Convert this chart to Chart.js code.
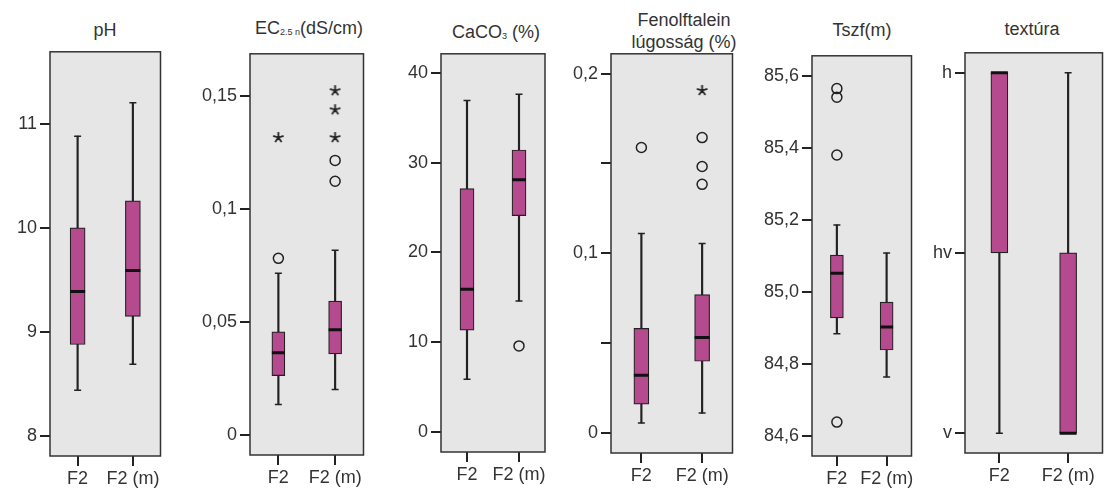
<!DOCTYPE html>
<html lang="hu">
<head>
<meta charset="utf-8">
<title>F2 talajminták</title>
<script src="https://cdn.jsdelivr.net/npm/chart.js@4.4.1/dist/chart.umd.min.js"></script>
<style>
  html, body { margin: 0; padding: 0; background: #fff; overflow: hidden; }
  body { width: 1105px; height: 492px; position: relative; font-family: 'Liberation Sans', Arial, sans-serif; }
  canvas { position: absolute; }
  .cim { position: absolute; transform: translateX(-50%); font-size: 18px; line-height: 22px; color: #333; white-space: nowrap; text-align: center; }
  .cim sub { font-size: 9px; vertical-align: -1px; }
</style>
</head>
<body>
<div class="cim" style="left:105px;top:19px">pH</div>
<div class="cim" style="left:309px;top:17px">EC<sub>2.5 n</sub>(dS/cm)</div>
<div class="cim" style="left:496px;top:21px">CaCO<sub>3</sub> (%)</div>
<div class="cim" style="left:684px;top:9px">Fenolftalein<br>lúgosság (%)</div>
<div class="cim" style="left:862px;top:19px">Tszf(m)</div>
<div class="cim" style="left:1032px;top:18px">textúra</div>

<canvas id="ph"></canvas>
<canvas id="ec"></canvas>
<canvas id="caco3"></canvas>
<canvas id="fenol"></canvas>
<canvas id="tszf"></canvas>
<canvas id="textura"></canvas>

<script>
const categories = ['F2', 'F2 (m)'];

// pH
const phLow = [8.44, 8.69];
const phQ1 = [8.88, 9.15];
const phMedian = [9.39, 9.59];
const phQ3 = [10.0, 10.26];
const phHigh = [10.88, 11.2];
const phCircles = [];
const phStars = [];
const phTicks = [8, 9, 10, 11];
const phTickLabels = ['8', '9', '10', '11'];

// EC 2,5 n (dS/cm)
const ecLow = [0.0135, 0.0201];
const ecQ1 = [0.0263, 0.0359];
const ecMedian = [0.0364, 0.0465];
const ecQ3 = [0.0456, 0.0592];
const ecHigh = [0.0715, 0.0817];
const ecCircles = [{ x: 'F2', y: 0.0781 }, { x: 'F2 (m)', y: 0.1214 }, { x: 'F2 (m)', y: 0.1122 }];
const ecStars = [{ x: 'F2', y: 0.1315 }, { x: 'F2 (m)', y: 0.1522 }, { x: 'F2 (m)', y: 0.1438 }, { x: 'F2 (m)', y: 0.1315 }];
const ecTicks = [0, 0.05, 0.1, 0.15];
const ecTickLabels = ['0', '0,05', '0,1', '0,15'];

// CaCO3 (%)
const caLow = [5.9, 14.6];
const caQ1 = [11.35, 24.1];
const caMedian = [15.9, 28.1];
const caQ3 = [27.1, 31.4];
const caHigh = [36.9, 37.6];
const caCircles = [{ x: 'F2 (m)', y: 9.6 }];
const caStars = [];
const caTicks = [0, 10, 20, 30, 40];
const caTickLabels = ['0', '10', '20', '30', '40'];

// Fenolftalein lúgosság (%)
const feLow = [0.0057, 0.0112];
const feQ1 = [0.0162, 0.04];
const feMedian = [0.0323, 0.0533];
const feQ3 = [0.0583, 0.0771];
const feHigh = [0.111, 0.1055];
const feCircles = [{ x: 'F2', y: 0.1589 }, { x: 'F2 (m)', y: 0.1644 }, { x: 'F2 (m)', y: 0.1483 }, { x: 'F2 (m)', y: 0.1384 }];
const feStars = [{ x: 'F2 (m)', y: 0.1906 }];
const feTicks = [0, 0.05, 0.1, 0.15, 0.2];
const feTickLabels = ['0', '', '0,1', '', '0,2'];

// Tszf (m)
const tsLow = [84.884, 84.764];
const tsQ1 = [84.928, 84.839];
const tsMedian = [85.052, 84.903];
const tsQ3 = [85.102, 84.972];
const tsHigh = [85.186, 85.108];
const tsCircles = [{ x: 'F2', y: 85.564 }, { x: 'F2', y: 85.54 }, { x: 'F2', y: 85.38 }, { x: 'F2', y: 84.639 }];
const tsStars = [];
const tsTicks = [84.6, 84.8, 85.0, 85.2, 85.4, 85.6];
const tsTickLabels = ['84,6', '84,8', '85,0', '85,2', '85,4', '85,6'];

// textúra (v = 1, hv = 2, h = 3)
const txLow = [1, 1];
const txQ1 = [2, 1];
const txMedian = [3, 1];
const txQ3 = [3, 2];
const txHigh = [3, 3];
const txCircles = [];
const txStars = [];
const txTicks = [1, 2, 3];
const txTickLabels = ['v', 'hv', 'h'];

const BOX_COLOR = '#b64a8e';
const LINE_COLOR = '#222';
const PANEL_BG = '#e6e6e6';
const FONT = { family: "'Liberation Sans', Arial, sans-serif", size: 18 };
const Y_AXIS_W = 60;
const X_AXIS_H = 40;
const PAD_TOP = 12;
const PAD_RIGHT = 4;

// ötágú csillag a szélsőértékekhez
const starMarker = (() => {
  const c = document.createElement('canvas');
  c.width = 13;
  c.height = 13;
  const g = c.getContext('2d');
  g.strokeStyle = LINE_COLOR;
  g.lineWidth = 1.8;
  g.beginPath();
  for (let k = 0; k < 5; k += 1) {
    const a = -Math.PI / 2 + (k * 2 * Math.PI) / 5;
    g.moveTo(6.5, 6.5);
    g.lineTo(6.5 + Math.cos(a) * 5.5, 6.5 + Math.sin(a) * 5.5);
  }
  g.stroke();
  return c;
})();

// szürke háttér + keret a rajzterület körül
const panelFrame = {
  id: 'panelFrame',
  beforeDraw(chart) {
    const { ctx, chartArea: a } = chart;
    ctx.save();
    ctx.fillStyle = PANEL_BG;
    ctx.fillRect(a.left, a.top, a.right - a.left, a.bottom - a.top);
    ctx.restore();
  },
  afterDraw(chart) {
    const { ctx, chartArea: a } = chart;
    ctx.save();
    ctx.strokeStyle = '#333';
    ctx.lineWidth = 1.5;
    ctx.strokeRect(a.left, a.top, a.right - a.left, a.bottom - a.top);
    ctx.restore();
  },
};

const points = (values) => values.map((v, i) => ({ x: categories[i], y: v }));

// csak a kifelé álló osztásjelek
const axisGrid = {
  display: true,
  drawOnChartArea: false,
  drawTicks: true,
  tickLength: 10,
  color: LINE_COLOR,
  lineWidth: 2,
};

const boxPlot = (cfg) => {
  const canvas = document.getElementById(cfg.id);
  canvas.width = Y_AXIS_W + cfg.width + PAD_RIGHT;
  canvas.height = PAD_TOP + cfg.height + X_AXIS_H;
  canvas.style.left = `${cfg.left - Y_AXIS_W}px`;
  canvas.style.top = `${cfg.top - PAD_TOP}px`;

  return new Chart(canvas, {
    type: 'bar',
    data: {
      labels: categories,
      datasets: [
        {
          // Q1–Q3 doboz
          data: cfg.q1.map((v, i) => [v, cfg.q3[i]]),
          backgroundColor: BOX_COLOR,
          borderColor: LINE_COLOR,
          borderWidth: 1.2,
          borderSkipped: false,
          barThickness: cfg.boxW,
          grouped: false,
          order: 2,
        },
        {
          // bajusz
          data: cfg.low.map((v, i) => [v, cfg.high[i]]),
          backgroundColor: LINE_COLOR,
          borderWidth: 0,
          barThickness: 1.5,
          grouped: false,
          order: 3,
        },
        {
          type: 'line',
          data: [...points(cfg.low), ...points(cfg.high)],
          showLine: false,
          pointStyle: 'line',
          pointRadius: 3.5,
          pointBorderWidth: 1.5,
          borderColor: LINE_COLOR,
          order: 1,
        },
        {
          // medián
          type: 'line',
          data: points(cfg.median),
          showLine: false,
          pointStyle: 'line',
          pointRadius: cfg.boxW / 2,
          pointBorderWidth: 3,
          borderColor: '#111',
          order: 0,
        },
        {
          type: 'line',
          data: cfg.circles,
          showLine: false,
          pointStyle: 'circle',
          pointRadius: 5,
          pointBorderWidth: 1.5,
          borderColor: LINE_COLOR,
          backgroundColor: 'rgba(0,0,0,0)',
          order: 0,
        },
        {
          type: 'line',
          data: cfg.stars,
          showLine: false,
          pointStyle: starMarker,
          pointRadius: 6,
          borderColor: LINE_COLOR,
          order: 0,
        },
      ],
    },
    options: {
      responsive: false,
      animation: false,
      events: [],
      layout: { padding: { top: PAD_TOP, right: PAD_RIGHT, left: 0, bottom: 0 } },
      plugins: { legend: { display: false }, tooltip: { enabled: false } },
      scales: {
        x: {
          type: 'category',
          offset: true,
          border: { display: false },
          grid: { ...axisGrid, offset: false },
          ticks: {
            color: '#333', font: FONT, padding: 2, maxRotation: 0, autoSkip: false,
          },
          afterFit: (s) => { s.height = X_AXIS_H; },
        },
        y: {
          type: 'linear',
          min: cfg.min,
          max: cfg.max,
          border: { display: false },
          grid: axisGrid,
          afterBuildTicks: (axis) => { axis.ticks = cfg.ticks.map((v) => ({ value: v })); },
          ticks: {
            color: '#333',
            font: FONT,
            padding: 3,
            autoSkip: false,
            callback: (value, index) => cfg.tickLabels[index],
          },
          afterFit: (s) => { s.width = Y_AXIS_W; },
        },
      },
    },
    plugins: [panelFrame],
  });
};

boxPlot({
  id: 'ph', left: 50, top: 50, width: 117, height: 406, boxW: 15, min: 7.81, max: 11.69,
  low: phLow, q1: phQ1, median: phMedian, q3: phQ3, high: phHigh,
  circles: phCircles, stars: phStars, ticks: phTicks, tickLabels: phTickLabels,
});
boxPlot({
  id: 'ec', left: 250, top: 52, width: 119, height: 403, boxW: 13, min: -0.0088, max: 0.1685,
  low: ecLow, q1: ecQ1, median: ecMedian, q3: ecQ3, high: ecHigh,
  circles: ecCircles, stars: ecStars, ticks: ecTicks, tickLabels: ecTickLabels,
});
boxPlot({
  id: 'caco3', left: 441, top: 52, width: 110, height: 400, boxW: 14, min: -2.2, max: 42.1,
  low: caLow, q1: caQ1, median: caMedian, q3: caQ3, high: caHigh,
  circles: caCircles, stars: caStars, ticks: caTicks, tickLabels: caTickLabels,
});
boxPlot({
  id: 'fenol', left: 611, top: 52, width: 128, height: 401, boxW: 15, min: -0.011, max: 0.211,
  low: feLow, q1: feQ1, median: feMedian, q3: feQ3, high: feHigh,
  circles: feCircles, stars: feStars, ticks: feTicks, tickLabels: feTickLabels,
});
boxPlot({
  id: 'tszf', left: 812, top: 54, width: 105, height: 402, boxW: 13, min: 84.545, max: 85.655,
  low: tsLow, q1: tsQ1, median: tsMedian, q3: tsQ3, high: tsHigh,
  circles: tsCircles, stars: tsStars, ticks: tsTicks, tickLabels: tsTickLabels,
});
boxPlot({
  id: 'textura', left: 965, top: 51, width: 145, height: 402, boxW: 17, min: 0.89, max: 3.11,
  low: txLow, q1: txQ1, median: txMedian, q3: txQ3, high: txHigh,
  circles: txCircles, stars: txStars, ticks: txTicks, tickLabels: txTickLabels,
});
</script>
</body>
</html>
